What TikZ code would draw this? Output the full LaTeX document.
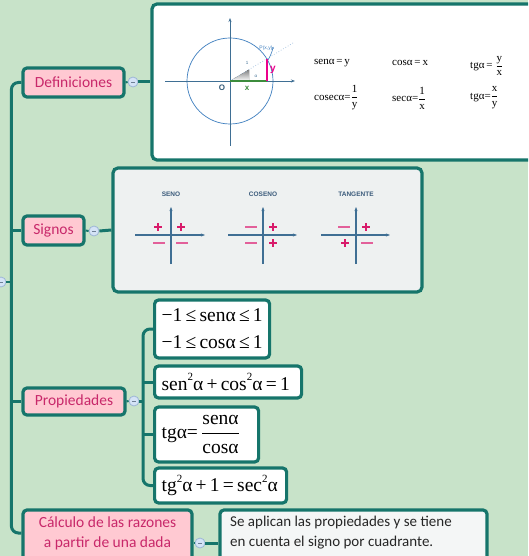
\documentclass[tikz,border=0pt]{standalone}
\usepackage{amsmath}
\usepackage{fontspec}
\setmainfont{Liberation Serif}
\newfontfamily\lblfont{Carlito}
\newfontfamily\hdfont{Liberation Sans}
\usetikzlibrary{arrows.meta}
\definecolor{bgg}{HTML}{C8E3C9}
\definecolor{tealc}{HTML}{16756B}
\definecolor{pinkf}{HTML}{FFC9D2}
\definecolor{magt}{HTML}{C8286A}
\definecolor{btnf}{HTML}{D4E3F6}
\definecolor{btnd}{HTML}{9DB6D6}
\definecolor{axisc}{HTML}{3F6F94}
\definecolor{sgplus}{HTML}{D81B6A}
\definecolor{sgminus}{HTML}{E2609A}
\definecolor{graybox}{HTML}{EEF1F1}
\definecolor{resbox}{HTML}{F4F6F6}
\definecolor{circc}{HTML}{3F7FBF}
\definecolor{greenx}{HTML}{3C8C3C}
\definecolor{ttl}{HTML}{3B5B7B}
\definecolor{shade}{HTML}{BCD6EA}
\newcommand\sq{\raisebox{0.5em}{\fontsize{11}{11}\selectfont 2}}
\newcommand\frc[2]{\ensuremath{\dfrac{\text{#1}}{\text{#2}}}}
\begin{document}
\begin{tikzpicture}[x=1pt,y=-1pt,
 conn/.style={draw=tealc,line width=3pt},
 topic/.style={draw=tealc,line width=3.2pt,rounded corners=4pt,fill=pinkf,text=magt,font=\lblfont\fontsize{15.5}{19}\selectfont,inner sep=0pt},
 panel/.style={draw=tealc,line width=3.2pt,rounded corners=5pt,inner sep=0pt},
 fbox/.style={draw=tealc,line width=3.2pt,rounded corners=4pt,fill=white,align=left,inner xsep=7pt,inner ysep=0pt,anchor=west},
 btn/.style={circle,fill=btnf,draw=btnd,line width=0.8pt,minimum size=10pt,inner sep=0pt},
 fm/.style={font=\fontsize{11}{13}\selectfont,inner sep=0pt,anchor=west},
 axs/.style={draw=axisc,line width=1.1pt,-{Stealth[length=4pt,width=3pt]}},
 plus/.style={draw=sgplus,line width=2.4pt},
 minus/.style={draw=sgminus,line width=2pt},
 ttlf/.style={font=\hdfont\bfseries\fontsize{6.5}{7}\selectfont,text=ttl,inner sep=0pt}
]
\clip (0,0) rectangle (528,556);
\fill[bgg] (0,0) rectangle (528,556);
\newcommand\btnmark{\textcolor{btnd!70!black}{\rule{4pt}{0.8pt}}}
\def\pls(#1,#2){\draw[plus] (#1-4,#2) -- (#1+4,#2) (#1,#2-4) -- (#1,#2+4);}
\def\mns(#1,#2){\draw[minus] (#1-6,#2) -- (#1+6,#2);}

% ---------- topics ----------
\node[topic,minimum width=101pt,minimum height=29pt] (def) at (73.5,82.5) {Definiciones};
\node[topic,minimum width=61pt,minimum height=29pt] (sig) at (53.5,230.5) {Signos};
\node[topic,minimum width=102pt,minimum height=27pt] (prop) at (74,401.5) {Propiedades};
\node[topic,minimum width=169pt,minimum height=66pt] (calc) at (107.5,543) {};
\node[font=\lblfont\fontsize{15.5}{20}\selectfont,text=magt,align=center,inner sep=0pt] (calctxt) at (107.5,533) {Cálculo de las razones\\a partir de una dada};

% ---------- panels ----------
\node[panel,fill=white,minimum width=388pt,minimum height=156pt] (defbox) at (346,82) {};
\node[panel,fill=graybox,minimum width=309pt,minimum height=124pt] (sigbox) at (267.5,230) {};
\node[panel,fill=resbox,rounded corners=4pt,minimum width=267pt,minimum height=66pt] (res) at (353.5,543) {};
\node[anchor=west,font=\lblfont\fontsize{15}{20}\selectfont,align=left,text=black!85,inner sep=0pt] (restxt) at (230,533) {Se aplican las propiedades y se tiene\\en cuenta el signo por cuadrante.};

% ---------- propiedades children ----------
\node[fbox,minimum width=115pt,minimum height=58pt,text width=101pt,font=\fontsize{19.5}{27}\selectfont] (b1) at (153,329) {−1\,≤\,senα\,≤\,1\\−1\,≤\,cosα\,≤\,1};
\node[fbox,minimum width=147pt,minimum height=32pt,text width=133pt,font=\fontsize{19.5}{22}\selectfont] (b2) at (153,382) {sen\sq α\,+\,cos\sq α\,=\,1};
\node[fbox,minimum width=104pt,minimum height=55pt,text width=90pt,font=\fontsize{19.5}{22}\selectfont] (b3) at (153,434.5) {tgα=\,\frc{senα}{cosα}};
\node[fbox,minimum width=132pt,minimum height=35pt,text width=118pt,font=\fontsize{19.5}{22}\selectfont] (b4) at (153,485.5) {tg\sq α\,+\,1\,=\,sec\sq α};

% ---------- collapse buttons ----------
\node[btn] (cdef) at (133,82) {\btnmark};
\node[btn] (csig) at (94,231) {\btnmark};
\node[btn] (cprop) at (134,401) {\btnmark};
\node[btn] (ccal) at (200,543) {\btnmark};
\node[btn] (croot) at (1,282) {\btnmark};
\coordinate (pj) at (143,401);

% ---------- connectors ----------
\draw[conn,rounded corners=7pt] (def.west) -- ++(-10,0) |- ([yshift=10pt]calc.west);
\draw[conn] (sig.west) -- ++(-10,0);
\draw[conn] (prop.west) -- ++(-10,0);
\draw[conn,line width=2pt] (croot.east) -- ++(7,0);
\draw[conn,line width=2pt] (def.east) -- (cdef.west);
\draw[conn] (cdef.east) -- (defbox.west);
\draw[conn,line width=2pt] (sig.east) -- (csig.west);
\draw[conn] (csig.east) -- (sigbox.west);
\draw[conn,line width=2pt] (prop.east) -- (cprop.west);
\draw[conn] (cprop.east) -- (pj);
\draw[conn,rounded corners=7pt] (b1.west) -- ++(-10,0) |- (b4.west);
\draw[conn] (b2.west) -- ++(-10,0);
\draw[conn] (b3.west) -- ++(-10,0);
\draw[conn,line width=2pt] (calc.east |- ccal) -- (ccal.west);
\draw[conn] (ccal.east) -- (res.west);

% ---------- unit circle ----------
\fill[shade] (230,81) -- (249,69.6) -- (249,81) -- cycle;
\draw[circc,line width=0.7pt] (230,81) circle[radius=43];
\draw[axs,line width=0.9pt] (165,81) -- (295,81);
\draw[axs,line width=0.9pt] (230,146) -- (230,18);
\draw[circc!50,dotted,line width=0.7pt] (230,81) -- (293,43);
\draw[greenx,line width=1.8pt] (230,81) -- (267,81);
\draw[magenta,line width=1.8pt] (267,59) -- (267,81);
\draw[circc,line width=0.6pt,-{Stealth[length=2pt,width=2pt]}] (268,60) arc[start angle=31,end angle=12,radius=43];
\node[font=\hdfont\bfseries\fontsize{8}{8}\selectfont,text=axisc!80!black,inner sep=0pt] (lo) at (222,88) {O};
\node[font=\hdfont\bfseries\fontsize{8}{8}\selectfont,text=greenx,inner sep=0pt] (lx) at (247,88) {x};
\node[font=\hdfont\bfseries\fontsize{10}{10}\selectfont,text=magenta,inner sep=0pt] (ly) at (273,70) {y};
\node[font=\hdfont\fontsize{5}{5}\selectfont,text=circc,inner sep=0pt] (lp) at (266,48) {P(x,y)};
\node[font=\hdfont\fontsize{4.5}{5}\selectfont,text=axisc,inner sep=0pt] (l1) at (247,63) {1};
\node[font=\fontsize{5}{5}\selectfont,text=axisc,inner sep=0pt] (la) at (256,76) {α};

% ---------- definitions ----------
\node[fm] (f1) at (314,63) {senα\,=\,y};
\node[fm] (f2) at (392,63) {cosα\,=\,x};
\node[fm] (f3) at (470,66) {tgα\,= \frc{y}{x}};
\node[fm] (f4) at (314,98) {cosecα=\frc{1}{y}};
\node[fm] (f5) at (392,98) {secα=\frc{1}{x}};
\node[fm] (f6) at (470,98) {tgα=\frc{x}{y}};

% ---------- signs ----------
\node[ttlf] (t1) at (171,194) {SENO};
\node[ttlf] (t2) at (263,194) {COSENO};
\node[ttlf] (t3) at (356,194) {TANGENTE};
\draw[axs] (135,235) -- (205,235);
\draw[axs] (171,264) -- (171,207);
\draw[axs] (228,235) -- (297,235);
\draw[axs] (263,264) -- (263,207);
\draw[axs] (321,235) -- (390,235);
\draw[axs] (356,264) -- (356,207);
\pls(158,227) \pls(181,227) \mns(159,243) \mns(182,243)
\mns(251,227) \pls(273,227) \mns(251,243) \pls(273,243)
\mns(344,227) \pls(366,227) \pls(345,243) \mns(367,243)
\end{tikzpicture}
\end{document}
